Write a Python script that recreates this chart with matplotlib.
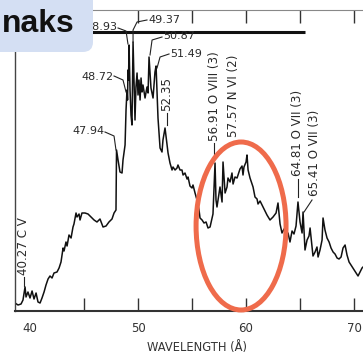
import matplotlib
matplotlib.use("Agg")
import matplotlib.pyplot as plt
from matplotlib.patches import Ellipse, FancyBboxPatch

# ---- data (wavelength in Angstrom, intensity in arbitrary units) ----
wavelength = [38.61, 38.89, 39.17, 39.35, 39.54, 39.63, 39.81, 40.00, 40.19, 40.37, 40.56, 40.74, 40.93, 41.11,
              41.30, 41.48, 41.67, 41.85, 42.04, 42.22, 42.50, 42.69, 42.87, 43.06, 43.15, 43.33, 43.43, 43.61,
              43.80, 43.98, 44.07, 44.26, 44.35, 44.54, 44.63, 44.81, 45.09, 45.37, 45.65, 45.93, 46.20, 46.48,
              46.76, 47.04, 47.31, 47.59, 47.78, 47.96, 48.01, 48.15, 48.33, 48.52, 48.61, 48.80, 48.89, 48.98,
              49.03, 49.07, 49.12, 49.17, 49.26, 49.35, 49.44, 49.54, 49.63, 49.72, 49.81, 49.91, 50.00, 50.09,
              50.19, 50.28, 50.37, 50.46, 50.65, 50.83, 50.93, 51.02, 51.20, 51.39, 51.57, 51.67, 51.85, 52.04,
              52.22, 52.31, 52.50, 52.69, 52.78, 52.96, 53.15, 53.24, 53.43, 53.61, 53.70, 53.89, 54.07, 54.17,
              54.35, 54.54, 54.63, 54.81, 55.00, 55.09, 55.28, 55.46, 55.65, 55.74, 55.93, 56.11, 56.30, 56.48,
              56.67, 56.85, 56.94, 57.13, 57.22, 57.31, 57.50, 57.59, 57.78, 57.87, 58.06, 58.24, 58.33, 58.52,
              58.70, 58.80, 58.98, 59.17, 59.44, 59.63, 59.72, 59.81, 60.00, 60.09, 60.19, 60.37, 60.65, 60.83,
              61.02, 61.11, 61.30, 61.57, 61.76, 61.94, 62.22, 62.50, 62.78, 62.96, 63.15, 63.33, 63.52, 63.70,
              63.89, 64.07, 64.26, 64.44, 64.63, 64.81, 65.00, 65.19, 65.28, 65.46, 65.65, 65.83, 65.93, 66.11,
              66.20, 66.39, 66.57, 66.67, 66.85, 67.04, 67.13, 67.31, 67.50, 67.69, 67.87, 68.06, 68.24, 68.43,
              68.61, 68.80, 68.98, 69.17, 69.35, 69.54, 69.72, 69.91, 70.19, 70.37, 70.56, 70.74, 70.93]
intensity = [8, 6, 7, 11, 24, 14, 19, 13, 20, 12, 18, 9, 8, 13,
             19, 26, 32, 35, 33, 38, 39, 43, 49, 63, 60, 69, 65, 76,
             73, 84, 87, 98, 94, 97, 91, 98, 98, 97, 94, 91, 89, 92,
             84, 85, 89, 92, 98, 101, 161, 151, 139, 138, 151, 166, 201, 221,
             211, 241, 231, 266, 221, 196, 186, 269, 231, 191, 224, 238, 216, 231,
             211, 233, 219, 226, 213, 224, 218, 254, 223, 213, 239, 245, 193, 163,
             159, 171, 183, 166, 158, 148, 141, 144, 141, 143, 146, 141, 141, 136,
             138, 132, 134, 125, 123, 126, 118, 111, 101, 93, 91, 88, 89, 83,
             84, 93, 97, 148, 111, 104, 118, 124, 109, 149, 118, 124, 133, 129,
             138, 127, 134, 133, 142, 145, 136, 144, 149, 156, 141, 133, 124, 114,
             112, 107, 110, 104, 100, 96, 91, 94, 98, 108, 87, 78, 82, 75,
             78, 69, 80, 77, 85, 109, 89, 78, 99, 61, 71, 75, 83, 64,
             55, 59, 64, 54, 61, 71, 93, 81, 73, 69, 63, 59, 57, 53,
             52, 54, 63, 66, 56, 49, 46, 43, 38, 35, 39, 43, 45]

tick_major = [40, 50, 60, 70]
tick_minor = [45, 50, 55, 60, 65, 70]

# horizontal peak labels: text, text x, text y, alignment, leader xs, leader ys
h_labels = [
    ("48.93", 48.12, 284, "right", [48.15, 48.89, 49.07], [283, 280, 267]),
    ("49.37", 50.95, 291, "left", [50.83, 49.91, 49.54, 49.54], [291, 289, 281, 269]),
    ("50.87", 52.33, 275, "left", [52.22, 51.30, 51.11], [274, 271, 256]),
    ("51.49", 52.98, 257, "left", [52.87, 52.04, 51.76], [257, 254, 243]),
    ("48.72", 47.70, 234, "right", [47.78, 48.61, 48.89], [235, 231, 219]),
    ("47.94", 46.86, 180, "right", [46.94, 47.78, 47.96], [179, 175, 161]),
]
# rotated line labels: text, x, bottom y, leader xs, leader ys
v_labels = [
    ("52.35", 52.69, 199, [52.69, 52.69], [198, 186]),
    ("56.91 O VIII (3)", 57.04, 169, [57.04, 57.04], [168, 155]),
    ("57.57 N VI (2)", 58.80, 173, None, None),
    ("64.81 O VII (3)", 64.81, 134, [64.81, 64.81], [132, 114]),
    ("65.41 O VII (3)", 66.30, 114, [66.11, 65.37], [111, 99]),
    ("40.27 C V", 39.44, 35, [39.44, 39.44], [34, 25]),
]
bar_x = [45.37, 65.46]
bar_y = [279, 279]
highlight = dict(center=(59.54, 85), width=8.33, height=168)

# ---- figure ----
fig = plt.figure(figsize=(3.63, 3.56), dpi=100)
ax = fig.add_axes([15 / 363, 45 / 356, 348 / 363, 301 / 356])
ax.set_xlim(38.61, 70.83)
ax.set_ylim(0, 301)

ax.plot(wavelength, intensity, color="#111111", lw=1.1)
ax.plot(bar_x, bar_y, color="#111111", lw=2.2, solid_capstyle="butt")

for txt, tx, ty, ha, lx, ly in h_labels:
    ax.text(tx, ty, txt, ha=ha, va="center", fontsize=8, color="#2a2a2a")
    ax.plot(lx, ly, color="#222222", lw=0.8)
for txt, tx, ty, lx, ly in v_labels:
    ax.text(tx, ty + 1, txt, rotation=90, ha="center", va="bottom", fontsize=8.6, color="#2a2a2a")
    if lx is not None:
        ax.plot(lx, ly, color="#222222", lw=0.8)

ell = Ellipse(highlight["center"], highlight["width"], highlight["height"], fill=False,
              edgecolor="#EF6B4B", lw=3.6, clip_on=False, zorder=6)
ax.add_patch(ell)

ax.set_yticks([])
ax.xaxis.remove_overlapping_locs = False
ax.set_xticks(tick_major)
ax.set_xticklabels([str(t) for t in tick_major])
ax.set_xticks(tick_minor, minor=True)
ax.tick_params(axis="x", which="major", length=0, pad=8, labelsize=8.5, labelcolor="#333333")
ax.tick_params(axis="x", which="minor", direction="in", length=9.4, width=1.0,
               top=True, bottom=True, color="#333333")

ax.spines["right"].set_visible(False)
ax.spines["left"].set_color("#444444")
ax.spines["left"].set_linewidth(1.0)
ax.spines["bottom"].set_color("#333333")
ax.spines["bottom"].set_linewidth(1.5)
ax.spines["top"].set_color("#888888")
ax.spines["top"].set_linewidth(0.8)

fig.text(197 / 363, 1 - 348 / 356, "WAVELENGTH (Å)", ha="center", va="center",
         fontsize=8.3, color="#333333")

box = FancyBboxPatch((-0.06, 1 - 52 / 356), 93 / 363 + 0.06, 52 / 356 + 0.06,
                     boxstyle="round,pad=0,rounding_size=0.028", transform=fig.transFigure,
                     facecolor="#D4DFF3", edgecolor="none", zorder=10)
fig.add_artist(box)
fig.text(2 / 363, 1 - 32 / 356, "naks", ha="left", va="baseline", fontsize=23,
         fontweight="bold", family="Liberation Sans", color="#111111", zorder=11)

fig.savefig("out.png", dpi=100)
